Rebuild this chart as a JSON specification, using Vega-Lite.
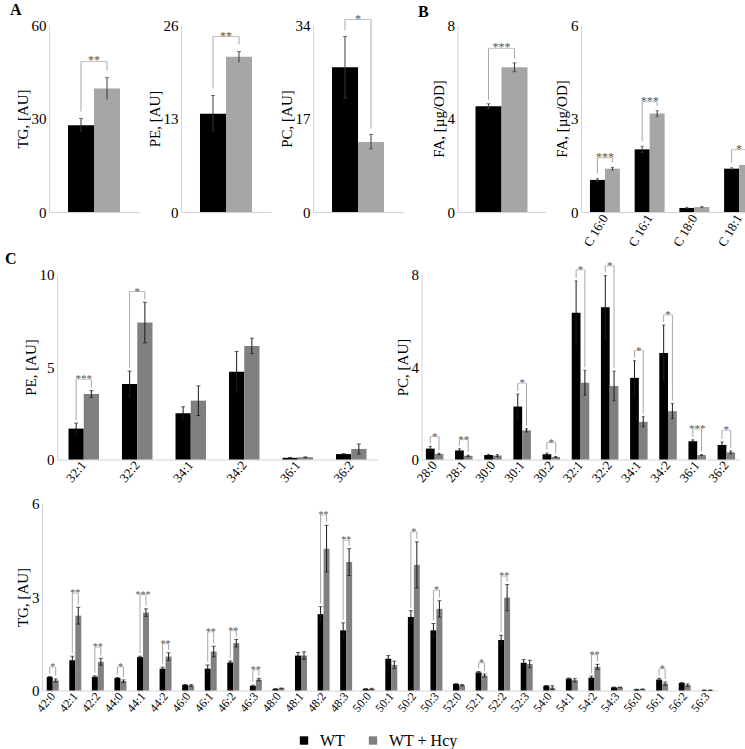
{
"$schema": "https://vega.github.io/schema/vega-lite/v6.json",
"padding": {"left": 5, "top": 1, "right": 0, "bottom": 0},
"background": "white",
"config": {
 "view": {"stroke": null},
 "font": "Liberation Serif",
 "axis": {"domainColor": "#d4d4d4", "ticks": false, "grid": false, "labelFont": "Liberation Serif", "labelFontSize": 15, "labelColor": "#000000", "titleFont": "Liberation Serif", "titleFontSize": 15, "titleFontWeight": "normal", "titleColor": "#000000", "labelPadding": 3, "titlePadding": 1},
 "axisX": {"labelAngle": -55, "labelFontSize": 13},
 "title": {"font": "Liberation Serif", "fontSize": 16, "fontWeight": "bold", "anchor": "start", "offset": 0, "color": "#000000"},
 "legend": {"direction": "horizontal", "labelFont": "Liberation Serif", "labelFontSize": 16, "labelColor": "#000000", "symbolType": "square", "symbolSize": 70, "symbolStrokeWidth": 0, "columnPadding": 20, "labelOffset": 8}
},
"datasets": {
 "r1": [
  {"p": "TG", "c": "x", "g": "WT", "v": 27.8, "lo": 25.6, "hi": 30.0, "bk": 48.3, "s": "**"},
  {"p": "TG", "c": "x", "g": "WT + Hcy", "v": 39.6, "lo": 36.1, "hi": 43.1, "bk": 48.3, "s": "**"},
  {"p": "PE", "c": "x", "g": "WT", "v": 13.66, "lo": 11.1, "hi": 16.2, "bk": 24.4, "s": "**"},
  {"p": "PE", "c": "x", "g": "WT + Hcy", "v": 21.57, "lo": 20.8, "hi": 22.3, "bk": 24.4, "s": "**"},
  {"p": "PC", "c": "x", "g": "WT", "v": 26.3, "lo": 20.7, "hi": 31.9, "bk": 35.0, "s": "*"},
  {"p": "PC", "c": "x", "g": "WT + Hcy", "v": 12.75, "lo": 11.5, "hi": 14.1, "bk": 35.0, "s": "*"},
  {"p": "FA", "c": "x", "g": "WT", "v": 4.52, "lo": 4.42, "hi": 4.63, "bk": 7.0, "s": "***"},
  {"p": "FA", "c": "x", "g": "WT + Hcy", "v": 6.19, "lo": 6.0, "hi": 6.38, "bk": 7.0, "s": "***"},
  {"p": "FA2", "c": "C 16:0", "g": "WT", "v": 1.03, "lo": 0.99, "hi": 1.07, "bk": 1.74, "s": "***"},
  {"p": "FA2", "c": "C 16:0", "g": "WT + Hcy", "v": 1.39, "lo": 1.35, "hi": 1.43, "bk": 1.74, "s": "***"},
  {"p": "FA2", "c": "C 16:1", "g": "WT", "v": 2.01, "lo": 1.91, "hi": 2.11, "bk": 3.54, "s": "***"},
  {"p": "FA2", "c": "C 16:1", "g": "WT + Hcy", "v": 3.16, "lo": 3.07, "hi": 3.25, "bk": 3.54, "s": "***"},
  {"p": "FA2", "c": "C 18:0", "g": "WT", "v": 0.13, "lo": 0.11, "hi": 0.15},
  {"p": "FA2", "c": "C 18:0", "g": "WT + Hcy", "v": 0.16, "lo": 0.14, "hi": 0.18},
  {"p": "FA2", "c": "C 18:1", "g": "WT", "v": 1.39, "lo": 1.36, "hi": 1.42, "bk": 2.0, "s": "*"},
  {"p": "FA2", "c": "C 18:1", "g": "WT + Hcy", "v": 1.51, "lo": 1.45, "hi": 1.57, "bk": 2.0, "s": "*"}
 ],
 "pe": [
  {"c": "32:1", "g": "WT", "v": 1.67, "lo": 1.37, "hi": 1.97, "bk": 4.34, "s": "***"},
  {"c": "32:1", "g": "WT + Hcy", "v": 3.54, "lo": 3.36, "hi": 3.72, "bk": 4.34, "s": "***"},
  {"c": "32:2", "g": "WT", "v": 4.08, "lo": 3.38, "hi": 4.78, "bk": 9.08, "s": "*"},
  {"c": "32:2", "g": "WT + Hcy", "v": 7.40, "lo": 6.30, "hi": 8.50, "bk": 9.08, "s": "*"},
  {"c": "34:1", "g": "WT", "v": 2.50, "lo": 2.15, "hi": 2.85},
  {"c": "34:1", "g": "WT + Hcy", "v": 3.18, "lo": 2.38, "hi": 3.98},
  {"c": "34:2", "g": "WT", "v": 4.74, "lo": 3.64, "hi": 5.84},
  {"c": "34:2", "g": "WT + Hcy", "v": 6.14, "lo": 5.72, "hi": 6.56},
  {"c": "36:1", "g": "WT", "v": 0.09, "lo": 0.07, "hi": 0.11},
  {"c": "36:1", "g": "WT + Hcy", "v": 0.12, "lo": 0.10, "hi": 0.14},
  {"c": "36:2", "g": "WT", "v": 0.29, "lo": 0.26, "hi": 0.32},
  {"c": "36:2", "g": "WT + Hcy", "v": 0.57, "lo": 0.30, "hi": 0.84}
 ],
 "pc": [
  {"c": "28:0", "g": "WT", "v": 0.47, "lo": 0.37, "hi": 0.57, "bk": 0.99, "s": "*"},
  {"c": "28:0", "g": "WT + Hcy", "v": 0.24, "lo": 0.21, "hi": 0.27, "bk": 0.99, "s": "*"},
  {"c": "28:1", "g": "WT", "v": 0.39, "lo": 0.32, "hi": 0.46, "bk": 0.86, "s": "**"},
  {"c": "28:1", "g": "WT + Hcy", "v": 0.16, "lo": 0.13, "hi": 0.19, "bk": 0.86, "s": "**"},
  {"c": "30:0", "g": "WT", "v": 0.19, "lo": 0.16, "hi": 0.22},
  {"c": "30:0", "g": "WT + Hcy", "v": 0.17, "lo": 0.13, "hi": 0.21},
  {"c": "30:1", "g": "WT", "v": 2.29, "lo": 1.75, "hi": 2.83, "bk": 3.30, "s": "*"},
  {"c": "30:1", "g": "WT + Hcy", "v": 1.26, "lo": 1.19, "hi": 1.33, "bk": 3.30, "s": "*"},
  {"c": "30:2", "g": "WT", "v": 0.23, "lo": 0.18, "hi": 0.28, "bk": 0.73, "s": "*"},
  {"c": "30:2", "g": "WT + Hcy", "v": 0.11, "lo": 0.09, "hi": 0.13, "bk": 0.73, "s": "*"},
  {"c": "32:1", "g": "WT", "v": 6.35, "lo": 4.98, "hi": 7.72, "bk": 8.2, "s": "*"},
  {"c": "32:1", "g": "WT + Hcy", "v": 3.32, "lo": 2.78, "hi": 3.86, "bk": 8.2, "s": "*"},
  {"c": "32:2", "g": "WT", "v": 6.58, "lo": 5.21, "hi": 7.95, "bk": 8.37, "s": "*"},
  {"c": "32:2", "g": "WT + Hcy", "v": 3.18, "lo": 2.54, "hi": 3.82, "bk": 8.37, "s": "*"},
  {"c": "34:1", "g": "WT", "v": 3.53, "lo": 2.79, "hi": 4.27, "bk": 4.71, "s": "*"},
  {"c": "34:1", "g": "WT + Hcy", "v": 1.63, "lo": 1.41, "hi": 1.85, "bk": 4.71, "s": "*"},
  {"c": "34:2", "g": "WT", "v": 4.61, "lo": 3.41, "hi": 5.81, "bk": 6.25, "s": "*"},
  {"c": "34:2", "g": "WT + Hcy", "v": 2.09, "lo": 1.76, "hi": 2.42, "bk": 6.25, "s": "*"},
  {"c": "36:1", "g": "WT", "v": 0.79, "lo": 0.73, "hi": 0.85, "bk": 1.32, "s": "***"},
  {"c": "36:1", "g": "WT + Hcy", "v": 0.19, "lo": 0.17, "hi": 0.21, "bk": 1.32, "s": "***"},
  {"c": "36:2", "g": "WT", "v": 0.63, "lo": 0.50, "hi": 0.76, "bk": 1.26, "s": "*"},
  {"c": "36:2", "g": "WT + Hcy", "v": 0.31, "lo": 0.25, "hi": 0.37, "bk": 1.26, "s": "*"}
 ],
 "tg": [
  {"c": "42:0", "g": "WT", "v": 0.43, "lo": 0.41, "hi": 0.45, "bk": 0.75, "s": "*"},
  {"c": "42:0", "g": "WT + Hcy", "v": 0.32, "lo": 0.27, "hi": 0.37, "bk": 0.75, "s": "*"},
  {"c": "42:1", "g": "WT", "v": 0.97, "lo": 0.84, "hi": 1.10, "bk": 3.12, "s": "**"},
  {"c": "42:1", "g": "WT + Hcy", "v": 2.40, "lo": 2.13, "hi": 2.67, "bk": 3.12, "s": "**"},
  {"c": "42:2", "g": "WT", "v": 0.44, "lo": 0.41, "hi": 0.47, "bk": 1.39, "s": "**"},
  {"c": "42:2", "g": "WT + Hcy", "v": 0.92, "lo": 0.81, "hi": 1.03, "bk": 1.39, "s": "**"},
  {"c": "44:0", "g": "WT", "v": 0.40, "lo": 0.38, "hi": 0.42, "bk": 0.76, "s": "*"},
  {"c": "44:0", "g": "WT + Hcy", "v": 0.30, "lo": 0.26, "hi": 0.34, "bk": 0.76, "s": "*"},
  {"c": "44:1", "g": "WT", "v": 1.07, "lo": 1.04, "hi": 1.10, "bk": 3.08, "s": "***"},
  {"c": "44:1", "g": "WT + Hcy", "v": 2.50, "lo": 2.38, "hi": 2.62, "bk": 3.08, "s": "***"},
  {"c": "44:2", "g": "WT", "v": 0.70, "lo": 0.65, "hi": 0.75, "bk": 1.50, "s": "**"},
  {"c": "44:2", "g": "WT + Hcy", "v": 1.09, "lo": 0.97, "hi": 1.21, "bk": 1.50, "s": "**"},
  {"c": "46:0", "g": "WT", "v": 0.18, "lo": 0.17, "hi": 0.19},
  {"c": "46:0", "g": "WT + Hcy", "v": 0.16, "lo": 0.13, "hi": 0.19},
  {"c": "46:1", "g": "WT", "v": 0.70, "lo": 0.58, "hi": 0.82, "bk": 1.88, "s": "**"},
  {"c": "46:1", "g": "WT + Hcy", "v": 1.25, "lo": 1.08, "hi": 1.42, "bk": 1.88, "s": "**"},
  {"c": "46:2", "g": "WT", "v": 0.90, "lo": 0.85, "hi": 0.95, "bk": 1.92, "s": "**"},
  {"c": "46:2", "g": "WT + Hcy", "v": 1.52, "lo": 1.40, "hi": 1.64, "bk": 1.92, "s": "**"},
  {"c": "46:3", "g": "WT", "v": 0.15, "lo": 0.13, "hi": 0.17, "bk": 0.66, "s": "**"},
  {"c": "46:3", "g": "WT + Hcy", "v": 0.35, "lo": 0.31, "hi": 0.39, "bk": 0.66, "s": "**"},
  {"c": "48:0", "g": "WT", "v": 0.05, "lo": 0.04, "hi": 0.06},
  {"c": "48:0", "g": "WT + Hcy", "v": 0.07, "lo": 0.06, "hi": 0.08},
  {"c": "48:1", "g": "WT", "v": 1.12, "lo": 1.02, "hi": 1.22},
  {"c": "48:1", "g": "WT + Hcy", "v": 1.12, "lo": 1.00, "hi": 1.24},
  {"c": "48:2", "g": "WT", "v": 2.45, "lo": 2.21, "hi": 2.69, "bk": 5.63, "s": "**"},
  {"c": "48:2", "g": "WT + Hcy", "v": 4.55, "lo": 3.80, "hi": 5.30, "bk": 5.63, "s": "**"},
  {"c": "48:3", "g": "WT", "v": 1.93, "lo": 1.69, "hi": 2.17, "bk": 4.82, "s": "**"},
  {"c": "48:3", "g": "WT + Hcy", "v": 4.12, "lo": 3.69, "hi": 4.55, "bk": 4.82, "s": "**"},
  {"c": "50:0", "g": "WT", "v": 0.05, "lo": 0.04, "hi": 0.06},
  {"c": "50:0", "g": "WT + Hcy", "v": 0.05, "lo": 0.03, "hi": 0.07},
  {"c": "50:1", "g": "WT", "v": 1.02, "lo": 0.92, "hi": 1.12},
  {"c": "50:1", "g": "WT + Hcy", "v": 0.82, "lo": 0.70, "hi": 0.94},
  {"c": "50:2", "g": "WT", "v": 2.36, "lo": 2.16, "hi": 2.56, "bk": 5.09, "s": "*"},
  {"c": "50:2", "g": "WT + Hcy", "v": 4.03, "lo": 3.29, "hi": 4.77, "bk": 5.09, "s": "*"},
  {"c": "50:3", "g": "WT", "v": 1.93, "lo": 1.71, "hi": 2.15, "bk": 3.22, "s": "*"},
  {"c": "50:3", "g": "WT + Hcy", "v": 2.62, "lo": 2.36, "hi": 2.88, "bk": 3.22, "s": "*"},
  {"c": "52:0", "g": "WT", "v": 0.21, "lo": 0.20, "hi": 0.22},
  {"c": "52:0", "g": "WT + Hcy", "v": 0.17, "lo": 0.15, "hi": 0.19},
  {"c": "52:1", "g": "WT", "v": 0.58, "lo": 0.55, "hi": 0.61, "bk": 0.89, "s": "*"},
  {"c": "52:1", "g": "WT + Hcy", "v": 0.48, "lo": 0.43, "hi": 0.53, "bk": 0.89, "s": "*"},
  {"c": "52:2", "g": "WT", "v": 1.62, "lo": 1.47, "hi": 1.77, "bk": 3.67, "s": "**"},
  {"c": "52:2", "g": "WT + Hcy", "v": 2.98, "lo": 2.56, "hi": 3.40, "bk": 3.67, "s": "**"},
  {"c": "52:3", "g": "WT", "v": 0.89, "lo": 0.79, "hi": 0.99},
  {"c": "52:3", "g": "WT + Hcy", "v": 0.85, "lo": 0.73, "hi": 0.97},
  {"c": "54:0", "g": "WT", "v": 0.15, "lo": 0.14, "hi": 0.16},
  {"c": "54:0", "g": "WT + Hcy", "v": 0.09, "lo": 0.03, "hi": 0.15},
  {"c": "54:1", "g": "WT", "v": 0.38, "lo": 0.36, "hi": 0.40},
  {"c": "54:1", "g": "WT + Hcy", "v": 0.33, "lo": 0.28, "hi": 0.38},
  {"c": "54:2", "g": "WT", "v": 0.41, "lo": 0.36, "hi": 0.46, "bk": 1.15, "s": "**"},
  {"c": "54:2", "g": "WT + Hcy", "v": 0.76, "lo": 0.68, "hi": 0.84, "bk": 1.15, "s": "**"},
  {"c": "54:3", "g": "WT", "v": 0.10, "lo": 0.09, "hi": 0.11},
  {"c": "54:3", "g": "WT + Hcy", "v": 0.10, "lo": 0.09, "hi": 0.11},
  {"c": "56:0", "g": "WT", "v": 0.03, "lo": 0.02, "hi": 0.04},
  {"c": "56:0", "g": "WT + Hcy", "v": 0.04, "lo": 0.03, "hi": 0.05},
  {"c": "56:1", "g": "WT", "v": 0.35, "lo": 0.31, "hi": 0.39, "bk": 0.70, "s": "*"},
  {"c": "56:1", "g": "WT + Hcy", "v": 0.22, "lo": 0.17, "hi": 0.27, "bk": 0.70, "s": "*"},
  {"c": "56:2", "g": "WT", "v": 0.24, "lo": 0.22, "hi": 0.26},
  {"c": "56:2", "g": "WT + Hcy", "v": 0.17, "lo": 0.13, "hi": 0.21},
  {"c": "56:3", "g": "WT", "v": 0.01, "lo": 0.005, "hi": 0.015},
  {"c": "56:3", "g": "WT + Hcy", "v": 0.01, "lo": 0.005, "hi": 0.015}
 ],
 "leg": [{"g": "WT"}, {"g": "WT + Hcy"}]
},
"resolve": {"scale": {"color": "independent", "xOffset": "independent"}},
"spacing": 1.5,
"vconcat": [
 {"spacing": 0, "resolve": {"scale": {"xOffset": "independent"}}, "hconcat": [
  {"width": 1, "height": 1, "data": {"values": []}, "mark": "point"},
  {"spacing": 14.5, "resolve": {"scale": {"xOffset": "independent"}}, "hconcat": [
   {"title": {"text": "A", "dx": -5, "offset": -5}, "spacing": 8, "resolve": {"scale": {"xOffset": "independent"}}, "hconcat": [
    {"width": 90, "height": 187, "data": {"name": "r1"}, "transform": [{"filter": "datum.p == 'TG'"}],
     "encoding": {"x": {"field": "c", "type": "nominal", "sort": null, "title": null, "scale": {"paddingInner": 0, "paddingOuter": 0.365}, "axis": {"labels": false}}},
     "layer": [
      {"mark": {"type": "bar"}, "encoding": {"xOffset": {"field": "g", "type": "nominal", "scale": {"paddingInner": 0}}, "y": {"field": "v", "type": "quantitative", "scale": {"domain": [0, 60], "nice": false}, "axis": {"values": [0, 30, 60], "title": "TG, [AU]"}}, "color": {"field": "g", "type": "nominal", "scale": {"domain": ["WT", "WT + Hcy"], "range": ["#000000", "#a6a6a6"]}, "legend": null}}},
      {"mark": {"type": "rule", "color": "#3a3a3a"}, "encoding": {"xOffset": {"field": "g", "type": "nominal"}, "y": {"field": "lo", "type": "quantitative", "scale": {"domain": [0, 60], "nice": false}, "axis": {"values": [0, 30, 60], "title": "TG, [AU]"}}, "y2": {"field": "hi"}}},
      {"mark": {"type": "tick", "color": "#3a3a3a", "size": 4, "thickness": 1}, "encoding": {"xOffset": {"field": "g", "type": "nominal"}, "y": {"field": "hi", "type": "quantitative", "scale": {"domain": [0, 60], "nice": false}, "axis": {"values": [0, 30, 60], "title": "TG, [AU]"}}}},
      {"transform": [{"filter": "isValid(datum.bk)"}], "mark": {"type": "rule", "color": "#a6a6a6", "yOffset": -7}, "encoding": {"xOffset": {"field": "g", "type": "nominal"}, "y": {"field": "hi", "type": "quantitative", "scale": {"domain": [0, 60], "nice": false}, "axis": {"values": [0, 30, 60], "title": "TG, [AU]"}}, "y2": {"field": "bk"}}},
      {"transform": [{"filter": "isValid(datum.bk) && datum.g == 'WT'"}], "mark": {"type": "tick", "color": "#a6a6a6", "size": 26, "thickness": 1}, "encoding": {"y": {"field": "bk", "type": "quantitative", "scale": {"domain": [0, 60], "nice": false}, "axis": {"values": [0, 30, 60], "title": "TG, [AU]"}}}},
      {"transform": [{"filter": "isValid(datum.bk) && datum.g == 'WT'"}], "mark": {"type": "text", "color": "#555555", "fontSize": 12, "baseline": "alphabetic", "dy": 3}, "encoding": {"y": {"field": "bk", "type": "quantitative", "scale": {"domain": [0, 60], "nice": false}, "axis": {"values": [0, 30, 60], "title": "TG, [AU]"}}, "text": {"field": "s"}}}
     ]},
    {"width": 90, "height": 187, "data": {"name": "r1"}, "transform": [{"filter": "datum.p == 'PE'"}],
     "encoding": {"x": {"field": "c", "type": "nominal", "sort": null, "title": null, "scale": {"paddingInner": 0, "paddingOuter": 0.365}, "axis": {"labels": false}}},
     "layer": [
      {"mark": {"type": "bar"}, "encoding": {"xOffset": {"field": "g", "type": "nominal", "scale": {"paddingInner": 0}}, "y": {"field": "v", "type": "quantitative", "scale": {"domain": [0, 26], "nice": false}, "axis": {"values": [0, 13, 26], "title": "PE, [AU]"}}, "color": {"field": "g", "type": "nominal", "scale": {"domain": ["WT", "WT + Hcy"], "range": ["#000000", "#a6a6a6"]}, "legend": null}}},
      {"mark": {"type": "rule", "color": "#3a3a3a"}, "encoding": {"xOffset": {"field": "g", "type": "nominal"}, "y": {"field": "lo", "type": "quantitative", "scale": {"domain": [0, 26], "nice": false}, "axis": {"values": [0, 13, 26], "title": "PE, [AU]"}}, "y2": {"field": "hi"}}},
      {"mark": {"type": "tick", "color": "#3a3a3a", "size": 4, "thickness": 1}, "encoding": {"xOffset": {"field": "g", "type": "nominal"}, "y": {"field": "hi", "type": "quantitative", "scale": {"domain": [0, 26], "nice": false}, "axis": {"values": [0, 13, 26], "title": "PE, [AU]"}}}},
      {"transform": [{"filter": "isValid(datum.bk)"}], "mark": {"type": "rule", "color": "#a6a6a6", "yOffset": -7}, "encoding": {"xOffset": {"field": "g", "type": "nominal"}, "y": {"field": "hi", "type": "quantitative", "scale": {"domain": [0, 26], "nice": false}, "axis": {"values": [0, 13, 26], "title": "PE, [AU]"}}, "y2": {"field": "bk"}}},
      {"transform": [{"filter": "isValid(datum.bk) && datum.g == 'WT'"}], "mark": {"type": "tick", "color": "#a6a6a6", "size": 26, "thickness": 1}, "encoding": {"y": {"field": "bk", "type": "quantitative", "scale": {"domain": [0, 26], "nice": false}, "axis": {"values": [0, 13, 26], "title": "PE, [AU]"}}}},
      {"transform": [{"filter": "isValid(datum.bk) && datum.g == 'WT'"}], "mark": {"type": "text", "color": "#555555", "fontSize": 12, "baseline": "alphabetic", "dy": 3}, "encoding": {"y": {"field": "bk", "type": "quantitative", "scale": {"domain": [0, 26], "nice": false}, "axis": {"values": [0, 13, 26], "title": "PE, [AU]"}}, "text": {"field": "s"}}}
     ]},
    {"width": 90, "height": 187, "data": {"name": "r1"}, "transform": [{"filter": "datum.p == 'PC'"}],
     "encoding": {"x": {"field": "c", "type": "nominal", "sort": null, "title": null, "scale": {"paddingInner": 0, "paddingOuter": 0.365}, "axis": {"labels": false}}},
     "layer": [
      {"mark": {"type": "bar"}, "encoding": {"xOffset": {"field": "g", "type": "nominal", "scale": {"paddingInner": 0}}, "y": {"field": "v", "type": "quantitative", "scale": {"domain": [0, 34], "nice": false}, "axis": {"values": [0, 17, 34], "title": "PC, [AU]"}}, "color": {"field": "g", "type": "nominal", "scale": {"domain": ["WT", "WT + Hcy"], "range": ["#000000", "#a6a6a6"]}, "legend": null}}},
      {"mark": {"type": "rule", "color": "#3a3a3a"}, "encoding": {"xOffset": {"field": "g", "type": "nominal"}, "y": {"field": "lo", "type": "quantitative", "scale": {"domain": [0, 34], "nice": false}, "axis": {"values": [0, 17, 34], "title": "PC, [AU]"}}, "y2": {"field": "hi"}}},
      {"mark": {"type": "tick", "color": "#3a3a3a", "size": 4, "thickness": 1}, "encoding": {"xOffset": {"field": "g", "type": "nominal"}, "y": {"field": "hi", "type": "quantitative", "scale": {"domain": [0, 34], "nice": false}, "axis": {"values": [0, 17, 34], "title": "PC, [AU]"}}}},
      {"mark": {"type": "tick", "color": "#3a3a3a", "size": 4, "thickness": 1}, "encoding": {"xOffset": {"field": "g", "type": "nominal"}, "y": {"field": "lo", "type": "quantitative", "scale": {"domain": [0, 34], "nice": false}, "axis": {"values": [0, 17, 34], "title": "PC, [AU]"}}}},
      {"transform": [{"filter": "isValid(datum.bk)"}], "mark": {"type": "rule", "color": "#a6a6a6", "yOffset": -6}, "encoding": {"xOffset": {"field": "g", "type": "nominal"}, "y": {"field": "hi", "type": "quantitative", "scale": {"domain": [0, 34], "nice": false}, "axis": {"values": [0, 17, 34], "title": "PC, [AU]"}}, "y2": {"field": "bk"}}},
      {"transform": [{"filter": "isValid(datum.bk) && datum.g == 'WT'"}], "mark": {"type": "tick", "color": "#a6a6a6", "size": 26, "thickness": 1}, "encoding": {"y": {"field": "bk", "type": "quantitative", "scale": {"domain": [0, 34], "nice": false}, "axis": {"values": [0, 17, 34], "title": "PC, [AU]"}}}},
      {"transform": [{"filter": "isValid(datum.bk) && datum.g == 'WT'"}], "mark": {"type": "text", "color": "#555555", "fontSize": 12, "baseline": "alphabetic", "dy": 3}, "encoding": {"y": {"field": "bk", "type": "quantitative", "scale": {"domain": [0, 34], "nice": false}, "axis": {"values": [0, 17, 34], "title": "PC, [AU]"}}, "text": {"field": "s"}}}
     ]}
   ]},
   {"title": {"text": "B", "dx": -13, "dy": -3, "offset": -5}, "spacing": 8.5, "resolve": {"scale": {"xOffset": "independent"}}, "hconcat": [
    {"width": 88, "height": 187, "data": {"name": "r1"}, "transform": [{"filter": "datum.p == 'FA'"}],
     "encoding": {"x": {"field": "c", "type": "nominal", "sort": null, "title": null, "scale": {"paddingInner": 0, "paddingOuter": 0.346}, "axis": {"labels": false}}},
     "layer": [
      {"mark": {"type": "bar"}, "encoding": {"xOffset": {"field": "g", "type": "nominal", "scale": {"paddingInner": 0}}, "y": {"field": "v", "type": "quantitative", "scale": {"domain": [0, 8], "nice": false}, "axis": {"values": [0, 4, 8], "title": "FA, [µg/OD]"}}, "color": {"field": "g", "type": "nominal", "scale": {"domain": ["WT", "WT + Hcy"], "range": ["#000000", "#a6a6a6"]}, "legend": null}}},
      {"mark": {"type": "rule", "color": "#3a3a3a"}, "encoding": {"xOffset": {"field": "g", "type": "nominal"}, "y": {"field": "lo", "type": "quantitative", "scale": {"domain": [0, 8], "nice": false}, "axis": {"values": [0, 4, 8], "title": "FA, [µg/OD]"}}, "y2": {"field": "hi"}}},
      {"mark": {"type": "tick", "color": "#3a3a3a", "size": 4, "thickness": 1}, "encoding": {"xOffset": {"field": "g", "type": "nominal"}, "y": {"field": "hi", "type": "quantitative", "scale": {"domain": [0, 8], "nice": false}, "axis": {"values": [0, 4, 8], "title": "FA, [µg/OD]"}}}},
      {"mark": {"type": "tick", "color": "#3a3a3a", "size": 4, "thickness": 1}, "encoding": {"xOffset": {"field": "g", "type": "nominal"}, "y": {"field": "lo", "type": "quantitative", "scale": {"domain": [0, 8], "nice": false}, "axis": {"values": [0, 4, 8], "title": "FA, [µg/OD]"}}}},
      {"transform": [{"filter": "isValid(datum.bk)"}], "mark": {"type": "rule", "color": "#a6a6a6", "yOffset": -4}, "encoding": {"xOffset": {"field": "g", "type": "nominal"}, "y": {"field": "hi", "type": "quantitative", "scale": {"domain": [0, 8], "nice": false}, "axis": {"values": [0, 4, 8], "title": "FA, [µg/OD]"}}, "y2": {"field": "bk"}}},
      {"transform": [{"filter": "isValid(datum.bk) && datum.g == 'WT'"}], "mark": {"type": "tick", "color": "#a6a6a6", "size": 26, "thickness": 1}, "encoding": {"y": {"field": "bk", "type": "quantitative", "scale": {"domain": [0, 8], "nice": false}, "axis": {"values": [0, 4, 8], "title": "FA, [µg/OD]"}}}},
      {"transform": [{"filter": "isValid(datum.bk) && datum.g == 'WT'"}], "mark": {"type": "text", "color": "#555555", "fontSize": 12, "baseline": "alphabetic", "dy": 3}, "encoding": {"y": {"field": "bk", "type": "quantitative", "scale": {"domain": [0, 8], "nice": false}, "axis": {"values": [0, 4, 8], "title": "FA, [µg/OD]"}}, "text": {"field": "s"}}}
     ]},
    {"width": 182, "height": 187, "data": {"name": "r1"}, "transform": [{"filter": "datum.p == 'FA2'"}],
     "encoding": {"x": {"field": "c", "type": "nominal", "sort": null, "title": null, "scale": {"paddingInner": 0.33, "paddingOuter": 0.2}, "axis": {"labelAngle": -60, "labelFontSize": 13}}},
     "layer": [
      {"mark": {"type": "bar"}, "encoding": {"xOffset": {"field": "g", "type": "nominal", "scale": {"paddingInner": 0}}, "y": {"field": "v", "type": "quantitative", "scale": {"domain": [0, 6], "nice": false}, "axis": {"values": [0, 3, 6], "title": "FA, [µg/OD]"}}, "color": {"field": "g", "type": "nominal", "scale": {"domain": ["WT", "WT + Hcy"], "range": ["#000000", "#a6a6a6"]}, "legend": null}}},
      {"mark": {"type": "rule", "color": "#3a3a3a"}, "encoding": {"xOffset": {"field": "g", "type": "nominal"}, "y": {"field": "lo", "type": "quantitative", "scale": {"domain": [0, 6], "nice": false}, "axis": {"values": [0, 3, 6], "title": "FA, [µg/OD]"}}, "y2": {"field": "hi"}}},
      {"mark": {"type": "tick", "color": "#3a3a3a", "size": 3, "thickness": 1}, "encoding": {"xOffset": {"field": "g", "type": "nominal"}, "y": {"field": "hi", "type": "quantitative", "scale": {"domain": [0, 6], "nice": false}, "axis": {"values": [0, 3, 6], "title": "FA, [µg/OD]"}}}},
      {"mark": {"type": "tick", "color": "#3a3a3a", "size": 3, "thickness": 1}, "encoding": {"xOffset": {"field": "g", "type": "nominal"}, "y": {"field": "lo", "type": "quantitative", "scale": {"domain": [0, 6], "nice": false}, "axis": {"values": [0, 3, 6], "title": "FA, [µg/OD]"}}}},
      {"transform": [{"filter": "isValid(datum.bk)"}], "mark": {"type": "rule", "color": "#a6a6a6", "yOffset": -5}, "encoding": {"xOffset": {"field": "g", "type": "nominal"}, "y": {"field": "hi", "type": "quantitative", "scale": {"domain": [0, 6], "nice": false}, "axis": {"values": [0, 3, 6], "title": "FA, [µg/OD]"}}, "y2": {"field": "bk"}}},
      {"transform": [{"filter": "isValid(datum.bk) && datum.g == 'WT'"}], "mark": {"type": "tick", "color": "#a6a6a6", "size": 15, "thickness": 1}, "encoding": {"y": {"field": "bk", "type": "quantitative", "scale": {"domain": [0, 6], "nice": false}, "axis": {"values": [0, 3, 6], "title": "FA, [µg/OD]"}}}},
      {"transform": [{"filter": "isValid(datum.bk) && datum.g == 'WT'"}], "mark": {"type": "text", "color": "#555555", "fontSize": 12, "baseline": "alphabetic", "dy": 3}, "encoding": {"y": {"field": "bk", "type": "quantitative", "scale": {"domain": [0, 6], "nice": false}, "axis": {"values": [0, 3, 6], "title": "FA, [µg/OD]"}}, "text": {"field": "s"}}}
     ]}
   ]}
  ]}
 ]},
 {"spacing": 11, "resolve": {"scale": {"xOffset": "independent", "color": "independent"}}, "vconcat": [
  {"title": {"text": "C", "dx": -4, "offset": -7}, "spacing": 0, "resolve": {"scale": {"xOffset": "independent"}}, "hconcat": [
   {"width": 14, "height": 1, "data": {"values": []}, "mark": "point"},
   {"spacing": 16.5, "resolve": {"scale": {"xOffset": "independent"}}, "hconcat": [
    {"width": 321, "height": 185, "data": {"name": "pe"},
     "encoding": {"x": {"field": "c", "type": "nominal", "sort": null, "title": null, "scale": {"paddingInner": 0.43, "paddingOuter": 0.215}, "axis": {"labelAngle": -50}}},
     "layer": [
      {"mark": {"type": "bar"}, "encoding": {"xOffset": {"field": "g", "type": "nominal", "scale": {"paddingInner": 0}}, "y": {"field": "v", "type": "quantitative", "scale": {"domain": [0, 10], "nice": false}, "axis": {"values": [0, 5, 10], "title": "PE, [AU]"}}, "color": {"field": "g", "type": "nominal", "scale": {"domain": ["WT", "WT + Hcy"], "range": ["#000000", "#808080"]}, "legend": null}}},
      {"mark": {"type": "rule", "color": "#1a1a1a"}, "encoding": {"xOffset": {"field": "g", "type": "nominal"}, "y": {"field": "lo", "type": "quantitative", "scale": {"domain": [0, 10], "nice": false}, "axis": {"values": [0, 5, 10], "title": "PE, [AU]"}}, "y2": {"field": "hi"}}},
      {"mark": {"type": "tick", "color": "#1a1a1a", "size": 4, "thickness": 1}, "encoding": {"xOffset": {"field": "g", "type": "nominal"}, "y": {"field": "hi", "type": "quantitative", "scale": {"domain": [0, 10], "nice": false}, "axis": {"values": [0, 5, 10], "title": "PE, [AU]"}}}},
      {"mark": {"type": "tick", "color": "#1a1a1a", "size": 4, "thickness": 1}, "encoding": {"xOffset": {"field": "g", "type": "nominal"}, "y": {"field": "lo", "type": "quantitative", "scale": {"domain": [0, 10], "nice": false}, "axis": {"values": [0, 5, 10], "title": "PE, [AU]"}}}},
      {"transform": [{"filter": "isValid(datum.bk)"}], "mark": {"type": "rule", "color": "#a6a6a6", "yOffset": -3}, "encoding": {"xOffset": {"field": "g", "type": "nominal"}, "y": {"field": "hi", "type": "quantitative", "scale": {"domain": [0, 10], "nice": false}, "axis": {"values": [0, 5, 10], "title": "PE, [AU]"}}, "y2": {"field": "bk"}}},
      {"transform": [{"filter": "isValid(datum.bk) && datum.g == 'WT'"}], "mark": {"type": "tick", "color": "#a6a6a6", "size": 15, "thickness": 1}, "encoding": {"y": {"field": "bk", "type": "quantitative", "scale": {"domain": [0, 10], "nice": false}, "axis": {"values": [0, 5, 10], "title": "PE, [AU]"}}}},
      {"transform": [{"filter": "isValid(datum.bk) && datum.g == 'WT'"}], "mark": {"type": "text", "color": "#555555", "fontSize": 11, "baseline": "alphabetic", "dy": 3}, "encoding": {"y": {"field": "bk", "type": "quantitative", "scale": {"domain": [0, 10], "nice": false}, "axis": {"values": [0, 5, 10], "title": "PE, [AU]"}}, "text": {"field": "s"}}}
     ]},
    {"width": 318, "height": 185, "data": {"name": "pc"},
     "encoding": {"x": {"field": "c", "type": "nominal", "sort": null, "title": null, "scale": {"paddingInner": 0.4, "paddingOuter": 0.15}, "axis": {"labelAngle": -50}}},
     "layer": [
      {"mark": {"type": "bar"}, "encoding": {"xOffset": {"field": "g", "type": "nominal", "scale": {"paddingInner": 0}}, "y": {"field": "v", "type": "quantitative", "scale": {"domain": [0, 8], "nice": false}, "axis": {"values": [0, 4, 8], "title": "PC, [AU]"}}, "color": {"field": "g", "type": "nominal", "scale": {"domain": ["WT", "WT + Hcy"], "range": ["#000000", "#808080"]}, "legend": null}}},
      {"mark": {"type": "rule", "color": "#1a1a1a"}, "encoding": {"xOffset": {"field": "g", "type": "nominal"}, "y": {"field": "lo", "type": "quantitative", "scale": {"domain": [0, 8], "nice": false}, "axis": {"values": [0, 4, 8], "title": "PC, [AU]"}}, "y2": {"field": "hi"}}},
      {"mark": {"type": "tick", "color": "#1a1a1a", "size": 3, "thickness": 1}, "encoding": {"xOffset": {"field": "g", "type": "nominal"}, "y": {"field": "hi", "type": "quantitative", "scale": {"domain": [0, 8], "nice": false}, "axis": {"values": [0, 4, 8], "title": "PC, [AU]"}}}},
      {"mark": {"type": "tick", "color": "#1a1a1a", "size": 3, "thickness": 1}, "encoding": {"xOffset": {"field": "g", "type": "nominal"}, "y": {"field": "lo", "type": "quantitative", "scale": {"domain": [0, 8], "nice": false}, "axis": {"values": [0, 4, 8], "title": "PC, [AU]"}}}},
      {"transform": [{"filter": "isValid(datum.bk)"}], "mark": {"type": "rule", "color": "#a6a6a6", "yOffset": -3}, "encoding": {"xOffset": {"field": "g", "type": "nominal"}, "y": {"field": "hi", "type": "quantitative", "scale": {"domain": [0, 8], "nice": false}, "axis": {"values": [0, 4, 8], "title": "PC, [AU]"}}, "y2": {"field": "bk"}}},
      {"transform": [{"filter": "isValid(datum.bk) && datum.g == 'WT'"}], "mark": {"type": "tick", "color": "#a6a6a6", "size": 9, "thickness": 1}, "encoding": {"y": {"field": "bk", "type": "quantitative", "scale": {"domain": [0, 8], "nice": false}, "axis": {"values": [0, 4, 8], "title": "PC, [AU]"}}}},
      {"transform": [{"filter": "isValid(datum.bk) && datum.g == 'WT'"}], "mark": {"type": "text", "color": "#555555", "fontSize": 11, "baseline": "alphabetic", "dy": 3}, "encoding": {"y": {"field": "bk", "type": "quantitative", "scale": {"domain": [0, 8], "nice": false}, "axis": {"values": [0, 4, 8], "title": "PC, [AU]"}}, "text": {"field": "s"}}}
     ]}
   ]}
  ]},
  {"spacing": 5, "resolve": {"scale": {"xOffset": "independent"}}, "hconcat": [
   {"width": 1, "height": 1, "data": {"values": []}, "mark": "point"},
   {"width": 676, "height": 187, "data": {"name": "tg"},
    "encoding": {"x": {"field": "c", "type": "nominal", "sort": null, "title": null, "scale": {"paddingInner": 0.47, "paddingOuter": 0.21}, "axis": {"labelFontSize": 12, "labelAngle": -50}}},
    "layer": [
     {"mark": {"type": "bar"}, "encoding": {"xOffset": {"field": "g", "type": "nominal", "scale": {"paddingInner": 0}}, "y": {"field": "v", "type": "quantitative", "scale": {"domain": [0, 6], "nice": false}, "axis": {"values": [0, 3, 6], "title": "TG, [AU]"}}, "color": {"field": "g", "type": "nominal", "scale": {"domain": ["WT", "WT + Hcy"], "range": ["#000000", "#808080"]}, "legend": null}}},
     {"mark": {"type": "rule", "color": "#1a1a1a"}, "encoding": {"xOffset": {"field": "g", "type": "nominal"}, "y": {"field": "lo", "type": "quantitative", "scale": {"domain": [0, 6], "nice": false}, "axis": {"values": [0, 3, 6], "title": "TG, [AU]"}}, "y2": {"field": "hi"}}},
     {"mark": {"type": "tick", "color": "#1a1a1a", "size": 4, "thickness": 1}, "encoding": {"xOffset": {"field": "g", "type": "nominal"}, "y": {"field": "hi", "type": "quantitative", "scale": {"domain": [0, 6], "nice": false}, "axis": {"values": [0, 3, 6], "title": "TG, [AU]"}}}},
     {"mark": {"type": "tick", "color": "#1a1a1a", "size": 4, "thickness": 1}, "encoding": {"xOffset": {"field": "g", "type": "nominal"}, "y": {"field": "lo", "type": "quantitative", "scale": {"domain": [0, 6], "nice": false}, "axis": {"values": [0, 3, 6], "title": "TG, [AU]"}}}},
     {"transform": [{"filter": "isValid(datum.bk)"}], "mark": {"type": "rule", "color": "#a6a6a6", "yOffset": -3}, "encoding": {"xOffset": {"field": "g", "type": "nominal"}, "y": {"field": "hi", "type": "quantitative", "scale": {"domain": [0, 6], "nice": false}, "axis": {"values": [0, 3, 6], "title": "TG, [AU]"}}, "y2": {"field": "bk"}}},
     {"transform": [{"filter": "isValid(datum.bk) && datum.g == 'WT'"}], "mark": {"type": "tick", "color": "#a6a6a6", "size": 6, "thickness": 1}, "encoding": {"y": {"field": "bk", "type": "quantitative", "scale": {"domain": [0, 6], "nice": false}, "axis": {"values": [0, 3, 6], "title": "TG, [AU]"}}}},
     {"transform": [{"filter": "isValid(datum.bk) && datum.g == 'WT'"}], "mark": {"type": "text", "color": "#555555", "fontSize": 10, "baseline": "alphabetic", "dy": 3}, "encoding": {"y": {"field": "bk", "type": "quantitative", "scale": {"domain": [0, 6], "nice": false}, "axis": {"values": [0, 3, 6], "title": "TG, [AU]"}}, "text": {"field": "s"}}}
    ]}
  ]},
  {"spacing": 0, "resolve": {"scale": {"xOffset": "independent"}}, "hconcat": [
   {"width": 276, "height": 1, "data": {"values": []}, "mark": "point"},
   {"width": 1, "height": 1, "data": {"name": "leg"},
    "mark": {"type": "square", "filled": true, "opacity": 0},
    "encoding": {"color": {"field": "g", "type": "nominal", "scale": {"domain": ["WT", "WT + Hcy"], "range": ["#000000", "#808080"]}, "legend": {"title": null, "orient": "right", "direction": "horizontal", "offset": 0, "padding": 4, "symbolOpacity": 1}}}}
  ]}
 ]}
]
}
